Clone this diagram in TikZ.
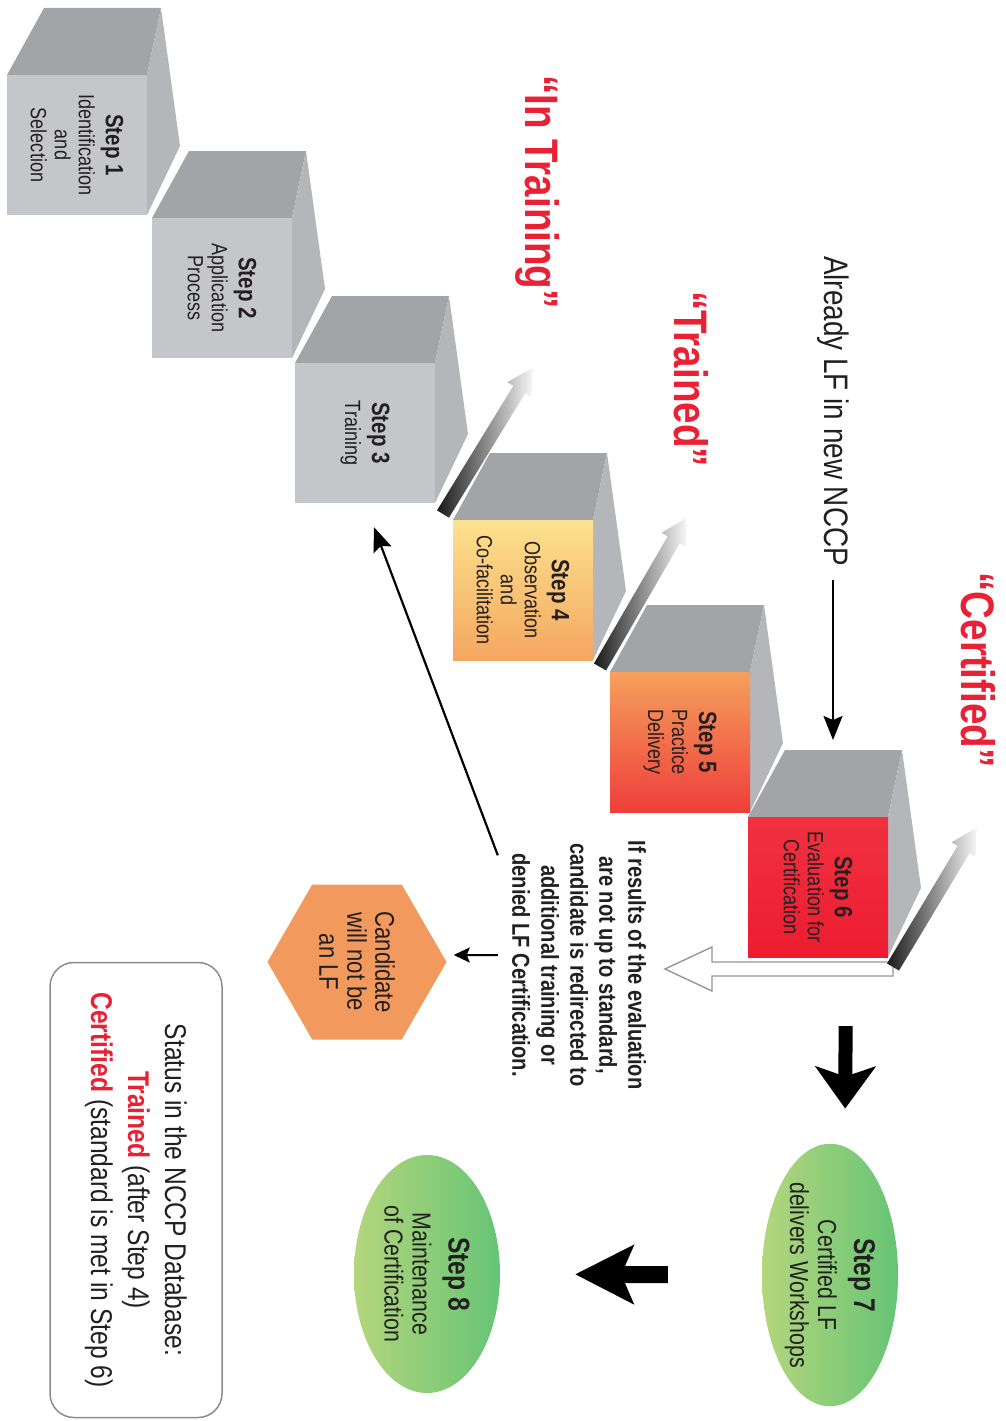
\documentclass[tikz,border=0pt]{standalone}
\usepackage{fontspec}
\setmainfont{Liberation Sans}[FakeStretch=0.82]
\usetikzlibrary{shapes.geometric,arrows.meta,calc}
\definecolor{lfred}{RGB}{234,32,52}
\definecolor{txt}{RGB}{35,31,32}
\definecolor{cfront}{RGB}{197,198,202}
\definecolor{ctop}{RGB}{163,164,168}
\definecolor{cside}{RGB}{181,182,186}
\definecolor{y4a}{RGB}{252,226,142}
\definecolor{y4b}{RGB}{245,166,96}
\definecolor{o5a}{RGB}{246,160,92}
\definecolor{o5b}{RGB}{238,62,58}
\definecolor{r6a}{RGB}{241,50,64}
\definecolor{r6b}{RGB}{236,28,48}
\definecolor{gl}{RGB}{180,214,124}
\definecolor{gd}{RGB}{102,196,118}
\definecolor{hexor}{RGB}{242,153,94}
\definecolor{hollowgray}{RGB}{150,150,150}
\definecolor{boxgray}{RGB}{140,140,140}

\newcommand{\cubesides}[2]{%
  \fill[ctop] (#1,#2) -- (#1+37,#2-67) -- (#1+154,#2-67) -- (#1+140,#2) -- cycle;
  \fill[cside] (#1+140,#2) -- (#1+154,#2-67) -- (#1+173,#2+71) -- (#1+140,#2+140) -- cycle;}
\newcommand{\gradbar}[4]{%
  \begin{scope}[shift={(#1,#2)},rotate=#3]
    \shade[left color=black!90,middle color=gray!55,right color=gray!6]
      (0,-7) -- (#4-26,-7) -- (#4-26,-14) -- (#4,0) -- (#4-26,14) -- (#4-26,7) -- (0,7) -- cycle;
  \end{scope}}
\newcommand{\sh}[1]{{\fontsize{25}{27}\selectfont\bfseries #1}}
\newcommand{\eh}[1]{{\fontsize{30}{32}\selectfont\bfseries #1}}

\tikzset{
  face/.style={rotate=-90, minimum width=140pt, minimum height=140pt, inner sep=0pt,
    align=center, text=txt, font=\fontsize{22}{24}\selectfont},
  greyface/.style={face, fill=cfront},
  ellnode/.style={ellipse, rotate=-90, inner sep=0pt, minimum width=238pt,
    left color=gl, right color=gd, align=center, text=txt,
    font=\fontsize{26}{28}\selectfont},
  statuslabel/.style={rotate=-90, inner sep=0pt, text=lfred,
    font=\fontsize{47}{50}\selectfont\bfseries},
  thinarrow/.style={draw=black, line width=2.2pt, -{Stealth[length=24pt,width=19pt,inset=4pt]}},
  smallarrow/.style={draw=black, line width=2pt, -{Stealth[length=16pt,width=15pt,inset=3pt]}},
  thickdown/.style={draw=black, line width=14pt, -{Stealth[length=42pt,width=60pt,inset=10pt]}},
  thickleft/.style={draw=black, line width=17pt, -{Stealth[length=58pt,width=58pt,inset=12pt]}},
  hollow/.style={draw=hollowgray, fill=white, line width=1.4pt, line join=miter}
}

\begin{document}
\begin{tikzpicture}[x=1pt,y=-1pt]
\useasboundingbox (0,0) rectangle (1005,1421);

% ---- cubes
\cubesides{7}{75}
\node[greyface] (s1) at (77,145) {\sh{Step 1}\\[3pt] Identification\\ and\\ Selection};
\cubesides{152}{218}
\node[greyface] (s2) at (222,288) {\sh{Step 2}\\[3pt] Application\\ Process};
\cubesides{295}{363}
\node[greyface] (s3) at (365,433) {\sh{Step 3}\\[3pt] Training};
\cubesides{453}{520}
\node[face, top color=y4a, bottom color=y4b] (s4) at (523,590) {\sh{Step 4}\\[3pt] Observation\\ and\\ Co-facilitation};
\cubesides{610}{672}
\node[face, top color=o5a, bottom color=o5b] (s5) at (680,742) {\sh{Step 5}\\[3pt] Practice\\ Delivery};
\cubesides{748}{817}
\node[face, top color=r6a, bottom color=r6b] (s6) at (818,887) {\sh{Step 6}\\[3pt] Evaluation for\\ Certification};

% ---- rising gradient bars
\gradbar{443}{514}{58.5}{172}
\gradbar{600}{667}{59.9}{173}

% ---- hollow arrow from step 6 to the redirect note
\coordinate (ha0) at (893,969);
\coordinate (ha1) at (665,969);
\draw[hollow] ($(ha0)+(0,-7)$) -- ($(ha1)+(47,-7)$) -- ($(ha1)+(47,-22)$) -- (ha1)
  -- ($(ha1)+(47,22)$) -- ($(ha1)+(47,7)$) -- ($(ha0)+(0,7)$) -- cycle;
\gradbar{893}{967}{59.0}{163}

% ---- status labels
\node[statuslabel] (lintr) at (538,192) {“In Training”};
\node[statuslabel] (ltr) at (691,379) {“Trained”};
\node[statuslabel] (lcert) at (978,670) {“Certified”};

% ---- already LF
\node[rotate=-90, inner sep=0pt, text=txt, font=\fontsize{34}{36}\selectfont] (already) at (833,411) {Already LF in new NCCP};
\coordinate (alrtip) at (833,740);
\draw[thinarrow, shorten <=14pt] (already.east) -- (alrtip);

% ---- redirect note
\node[rotate=-90, inner sep=0pt, align=center, text=txt, font=\fontsize{24.5}{29}\selectfont\bfseries] (redir) at (579,965)
  {If results of the evaluation\\ are not up to standard,\\ candidate is redirected to\\ additional training or\\ denied LF Certification.};
\draw[thinarrow] ([shift={(-14,15)}]redir.south west) -- ([shift={(9,24)}]s3.east);

% ---- hexagon
\node[regular polygon, regular polygon sides=6, shape border rotate=90, rotate=-90,
  minimum size=179pt, inner sep=0pt, fill=hexor, align=center, text=txt,
  font=\fontsize{27}{28}\selectfont] (hex) at (357,962) {Candidate\\ will not be\\ an LF};
\draw[smallarrow] ([shift={(-14,-10)}]redir.south) -- ([shift={(7,-7)}]hex.north);

% ---- steps 7 and 8
\node[ellnode, minimum height=136pt] (st7) at (830,1275) {\eh{Step 7}\\[8pt] Certified LF\\ delivers Workshops};
\node[ellnode, minimum height=146pt] (st8) at (427,1274) {\eh{Step 8}\\[8pt] Maintenance\\ of Certification};
\draw[thickdown, shorten <=69pt, shorten >=35pt] ([xshift=28pt]s6.east) -- ([xshift=15pt]st7.west);
\draw[thickleft, shorten <=94pt, shorten >=75pt] (st7.south) -- (st8.north);

% ---- legend
\node[rotate=-90, draw=boxgray, line width=1.5pt, rounded corners=24pt, minimum width=455pt,
  minimum height=172pt, align=center, text=txt, font=\fontsize{30}{37}\selectfont] (legend) at (136,1190)
  {Status in the NCCP Database:\\ \textcolor{lfred}{\bfseries Trained} (after Step 4)\\
   \textcolor{lfred}{\bfseries Certified} (standard is met in Step 6)};
\end{tikzpicture}
\end{document}
